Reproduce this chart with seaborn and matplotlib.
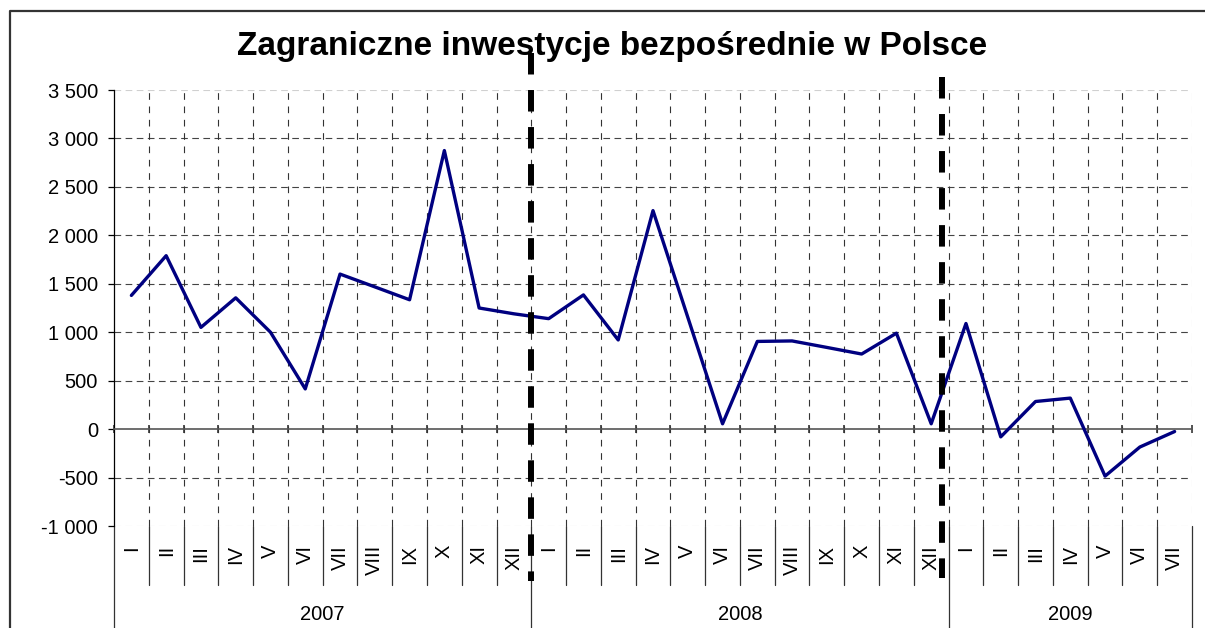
import numpy as np
import pandas as pd
import matplotlib
matplotlib.use("Agg")
import matplotlib.pyplot as plt
import matplotlib.transforms as mtransforms
from matplotlib.lines import Line2D
import seaborn as sns

# dane (mln EUR)
years = ["2007", "2008", "2009"]
months_full = ["I", "II", "III", "IV", "V", "VI", "VII", "VIII", "IX", "X", "XI", "XII"]
values_2007 = [1380, 1790, 1050, 1355, 1000, 415, 1600, 1468, 1335, 2875, 1250, 1190]
values_2008 = [1140, 1385, 920, 2255, 1155, 55, 905, 910, 843, 775, 990, 55]
values_2009 = [1090, -80, 285, 320, -485, -185, -25]
yticks = [-1000, -500, 0, 500, 1000, 1500, 2000, 2500, 3000, 3500]

rows = []
for year, vals in zip(years, [values_2007, values_2008, values_2009]):
    for m, v in zip(months_full, vals):
        rows.append({"year": year, "month": m, "value": v})
df = pd.DataFrame(rows)
df["pos"] = np.arange(len(df))

sns.set_style("white")
plt.rcParams["font.family"] = ["Liberation Sans", "DejaVu Sans"]
plt.rcParams["text.color"] = "black"
plt.rcParams["xtick.color"] = "black"
plt.rcParams["ytick.color"] = "black"

W, H = 1205, 628
fig = plt.figure(figsize=(W / 100, H / 100), dpi=100)
ax = fig.add_axes([114 / W, 1 - 526 / H, (1192 - 114) / W, (526 - 90) / H])

n = len(df)
ax.set_xlim(-0.5, n - 0.5)
ax.set_ylim(-1000, 3500)

# siatka
for v in yticks:
    if v in (-1000, 3500):
        ax.axhline(v, color="#d0d0d0", lw=0.8, ls=(0, (6, 4)), zorder=1)
    elif v != 0:
        ax.axhline(v, color="#444444", lw=0.8, ls=(0, (6, 4)), zorder=1)
for k in range(1, n):
    ax.axvline(k - 0.5, color="#333333", lw=0.8, ls=(0, (6, 6)), zorder=1)
ax.axvline(n - 0.5, color="#d0d0d0", lw=0.8, ls=(0, (6, 6)), zorder=1)

sns.lineplot(data=df, x="pos", y="value", ax=ax, color="#000080", lw=2.4, zorder=3)

# osie
for s in ["top", "right"]:
    ax.spines[s].set_visible(False)
ax.spines["left"].set_color("black")
ax.spines["left"].set_linewidth(0.9)
ax.spines["bottom"].set_position(("data", 0))
ax.spines["bottom"].set_color("#555555")
ax.spines["bottom"].set_linewidth(1.2)
ax.set_yticks(yticks)
ax.set_yticklabels([f"{v:,}".replace(",", " ") for v in yticks], fontsize=14.5)
ax.tick_params(axis="y", direction="out", length=4.5, width=0.9, pad=7, left=True)
ax.set_xticks(np.arange(0, n + 1) - 0.5)
ax.set_xticklabels([])
ax.tick_params(axis="x", direction="inout", length=6, width=1.2, color="#333333", bottom=True)
ax.set_xlabel("")
ax.set_ylabel("")

# etykiety kategorii pod wykresem
trans = mtransforms.blended_transform_factory(ax.transData, fig.transFigure)
for k in range(n + 1):
    x = k - 0.5
    year_edge = k in (0, 12, 24, n)
    y_end = 0.0 if year_edge else 1 - 585 / H
    ax.add_line(Line2D([x, x], [1 - 526 / H, y_end], transform=trans, color="#333333",
                       lw=0.9, clip_on=False))
for _, r in df.iterrows():
    ax.text(r["pos"], 1 - 545 / H, r["month"], transform=trans, rotation=90,
            ha="center", va="top", fontsize=14.5)
starts = [0, 12, 24]
for year, st in zip(years, starts):
    cnt = (df["year"] == year).sum()
    ax.text(st + (cnt - 1) / 2, 1 - 615 / H, year, transform=trans, ha="center",
            va="center", fontsize=14.5)

# grube linie przerywane oddzielajace lata
ax.add_line(Line2D([11.5, 11.5], [1 - 53 / H, 1 - 581 / H], transform=trans, color="black",
                   lw=4.3, ls=(0, (3.6, 2.6)), clip_on=False, zorder=5))
ax.add_line(Line2D([23.31, 23.31], [1 - 77 / H, 1 - 578 / H], transform=trans, color="black",
                   lw=4.3, ls=(0, (3.6, 2.6)), clip_on=False, zorder=5))

fig.text(612 / W, 1 - 46 / H, "Zagraniczne inwestycje bezpośrednie w Polsce", ha="center",
         va="center", fontsize=24, fontweight="bold")

# ramka obszaru wykresu
fig.add_artist(Line2D([10 / W, 10 / W, 1.0], [0.0, 1 - 11 / H, 1 - 11 / H],
                      transform=fig.transFigure, color="#333333", lw=1.6))

fig.savefig("out.png", dpi=100)
